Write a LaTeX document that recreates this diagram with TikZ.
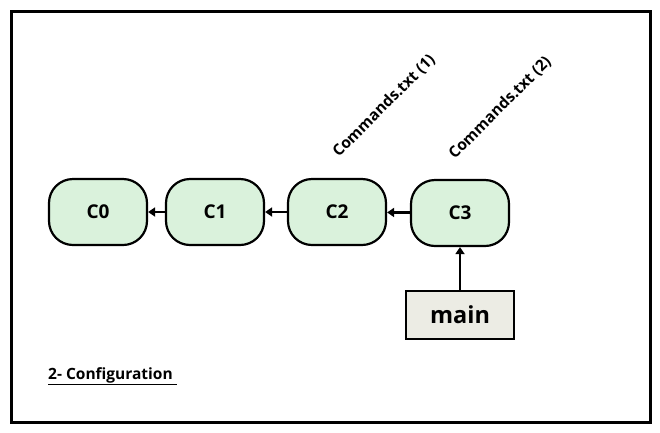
\documentclass[tikz,border=0pt]{standalone}
\usepackage{fontspec}
\setmainfont{Open Sans}
\usetikzlibrary{arrows.meta}
\definecolor{cfill}{HTML}{DAF2DC}
\definecolor{mfill}{HTML}{ECECE4}
\tikzset{
  commit/.style={draw, line width=2.2pt, fill=cfill, rounded corners=24pt, minimum width=98pt, minimum height=66pt, font=\fontsize{19}{22}\selectfont\bfseries, inner sep=0pt},
  branch/.style={draw, line width=2.2pt, fill=mfill, minimum width=108pt, minimum height=48pt, font=\fontsize{23.5}{27}\selectfont\bfseries, inner sep=0pt},
  link/.style={line width=2.8pt, -{Triangle[length=7pt,width=9pt]}},
  rlabel/.style={rotate=45, font=\fontsize{15.5}{18}\selectfont\bfseries, inner sep=0pt}
}
\begin{document}
\begin{tikzpicture}[x=1pt,y=-1pt]
\useasboundingbox (0,0) rectangle (660,432);
\draw[line width=3pt] (11,11) rectangle (650,422);
\node[commit] (c0) at (98,212) {C0};
\node[commit] (c1) at (215,212) {C1};
\node[commit] (c2) at (337,212) {C2};
\node[commit] (c3) at (460,213) {C3};
\node[branch] (main) at (460,315) {main};
\draw[link] (c1) -- (c0);
\draw[link] (c2) -- (c1);
\draw[link] (c3) -- (c2);
\draw[link] (main) -- (c3);
\node[rlabel] (l1) at (384,106) {Commands.txt (1)};
\node[rlabel] (l2) at (500,108) {Commands.txt (2)};
\node[anchor=west, font=\fontsize{15.5}{18}\selectfont\bfseries, inner sep=0pt] (cfg) at (48,376) {\underline{2- Configuration\kern4pt}};
\end{tikzpicture}
\end{document}
